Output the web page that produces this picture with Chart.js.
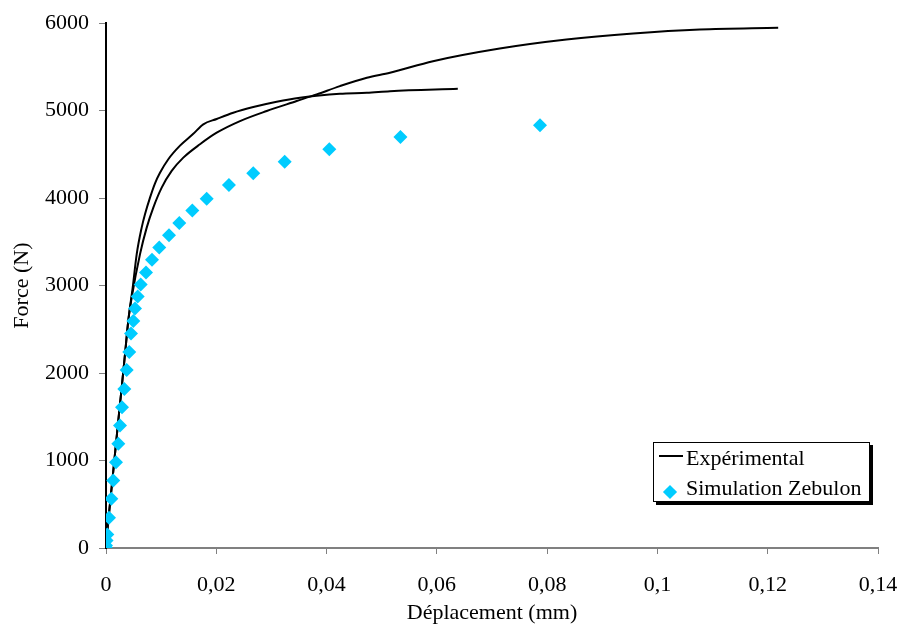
<!DOCTYPE html>
<html>
<head>
<meta charset="utf-8">
<script src="https://cdn.jsdelivr.net/npm/chart.js@4.4.1/dist/chart.umd.min.js"></script>
<style>
  html, body { margin: 0; padding: 0; background: #fff; }
  #wrap { position: relative; width: 899px; height: 628px; }
  #legend {
    position: absolute; left: 653px; top: 442px; width: 215px; height: 58px;
    border: 1px solid #000; background: #fff; box-shadow: 3px 3px 0 #000;
    font-family: "Liberation Serif", serif; font-size: 22px; line-height: 26px; color: #000;
  }
  #legend .line { position: absolute; left: 5px; top: 12px; width: 24px; height: 2px; background: #000; }
  #legend .dia { position: absolute; left: 11px; top: 44px; width: 10px; height: 10px; background: #00CCFF; transform: rotate(45deg); }
  #legend .txt { position: absolute; left: 32px; white-space: nowrap; }
</style>
</head>
<body>
<div id="wrap">
  <canvas id="forceChart" width="899" height="628"></canvas>
  <div id="legend">
    <span class="line"></span><span class="txt" style="top:2px">Expérimental</span>
    <span class="dia"></span><span class="txt" style="top:32px">Simulation Zebulon</span>
  </div>
</div>
<script>
// axis ticks
const xTickLabels = ['0', '0,02', '0,04', '0,06', '0,08', '0,1', '0,12', '0,14'];
const yTickLabels = ['0', '1000', '2000', '3000', '4000', '5000', '6000'];

// experimental test 1 (short curve)
const exp1X = [0, 0.00042, 0.00103, 0.00163, 0.00223, 0.00285, 0.00345, 0.00404, 0.00484, 0.00557, 0.00647, 0.00707, 0.00798, 0.00889, 0.00979, 0.0113, 0.01342, 0.01583, 0.01764, 0.02007, 0.02308, 0.02671, 0.03095, 0.03518, 0.04243, 0.0473, 0.0515, 0.0638];
const exp1Y = [10, 315, 695, 1077, 1457, 1837, 2218, 2598, 2978, 3360, 3663, 3816, 4006, 4170, 4290, 4445, 4600, 4735, 4844, 4905, 4976, 5041, 5102, 5148, 5193, 5204, 5223, 5250];

// experimental test 2 (long curve)
const exp2X = [0, 0.00042, 0.00103, 0.00163, 0.00223, 0.00285, 0.00345, 0.00404, 0.00466, 0.00617, 0.00738, 0.00858, 0.0101, 0.01191, 0.01402, 0.01704, 0.02007, 0.0243, 0.02914, 0.03458, 0.0382, 0.04243, 0.0473, 0.0515, 0.0593, 0.0714, 0.0835, 0.0956, 0.1077, 0.1219];
const exp2Y = [10, 315, 695, 1077, 1457, 1837, 2218, 2598, 2864, 3360, 3663, 3892, 4120, 4311, 4463, 4616, 4748, 4881, 4996, 5110, 5186, 5281, 5376, 5433, 5566, 5711, 5814, 5883, 5928, 5947];

// simulation Zebulon
const simX = [0, 0, 0.0001, 0.00024, 0.00054, 0.00096, 0.00132, 0.00181, 0.00223, 0.00254, 0.0029, 0.00332, 0.00375, 0.00422, 0.00453, 0.00495, 0.00526, 0.00575, 0.00629, 0.00725, 0.00834, 0.00966, 0.01142, 0.01329, 0.01565, 0.01826, 0.0223, 0.0267, 0.0324, 0.0405, 0.0534, 0.0787];
const simY = [0, 30, 87, 155, 346, 563, 772, 981, 1191, 1400, 1609, 1819, 2035, 2241, 2453, 2595, 2739, 2876, 3013, 3150, 3295, 3435, 3577, 3717, 3860, 3994, 4149, 4284, 4417, 4560, 4699, 4832];

const toPoints = (xs, ys) => xs.map((x, i) => ({x: x, y: ys[i]}));

const serif = "'Liberation Serif', 'Times New Roman', serif";
const ctx = document.getElementById('forceChart').getContext('2d');

const forceChart = new Chart(ctx, {
    type: 'scatter',
    data: {
        datasets: [
            {
                label: 'Expérimental',
                data: toPoints(exp1X, exp1Y),
                showLine: true,
                borderColor: '#000',
                borderWidth: 2,
                pointRadius: 0,
                cubicInterpolationMode: 'monotone',
                order: 1
            },
            {
                label: 'Expérimental 2',
                data: toPoints(exp2X, exp2Y),
                showLine: true,
                borderColor: '#000',
                borderWidth: 2,
                pointRadius: 0,
                cubicInterpolationMode: 'monotone',
                order: 1
            },
            {
                label: 'Simulation Zebulon',
                data: toPoints(simX, simY),
                pointStyle: 'rectRot',
                pointRadius: 7,
                backgroundColor: '#00CCFF',
                borderColor: '#00CCFF',
                borderWidth: 0,
                order: 0
            }
        ]
    },
    options: {
        responsive: false,
        animation: false,
        layout: { padding: { left: 0, right: 21, top: 22, bottom: 0 } },
        plugins: {
            legend: { display: false },
            tooltip: { enabled: false }
        },
        scales: {
            x: {
                type: 'linear',
                min: 0,
                max: 0.14,
                afterBuildTicks: (scale) => {
                    scale.ticks = xTickLabels.map((t, i) => ({value: i * 0.02}));
                },
                afterFit: (scale) => {
                    scale.height = 80;
                    scale.paddingLeft = 0;
                    scale.paddingRight = 0;
                },
                ticks: {
                    color: '#000',
                    font: { family: serif, size: 22 },
                    padding: 18,
                    maxRotation: 0,
                    autoSkip: false,
                    callback: (v, i) => xTickLabels[i]
                },
                grid: { drawOnChartArea: false, drawTicks: true, tickLength: 6, color: '#808080' },
                border: { color: '#808080', width: 2 },
                title: {
                    display: true,
                    text: 'Déplacement (mm)',
                    color: '#000',
                    font: { family: serif, size: 22 },
                    padding: { top: 0, bottom: 2 }
                }
            },
            y: {
                type: 'linear',
                min: 0,
                max: 6000,
                afterBuildTicks: (scale) => {
                    scale.ticks = yTickLabels.map((t, i) => ({value: i * 1000}));
                },
                afterFit: (scale) => { scale.width = 106; },
                ticks: {
                    color: '#000',
                    font: { family: serif, size: 22 },
                    padding: 10,
                    callback: (v, i) => yTickLabels[i]
                },
                grid: { drawOnChartArea: false, drawTicks: true, tickLength: 7, color: '#808080' },
                border: { color: '#000', width: 2 },
                title: {
                    display: true,
                    text: 'Force (N)',
                    color: '#000',
                    font: { family: serif, size: 22 },
                    padding: { top: 9, bottom: 0 }
                }
            }
        }
    }
});
</script>
</body>
</html>
